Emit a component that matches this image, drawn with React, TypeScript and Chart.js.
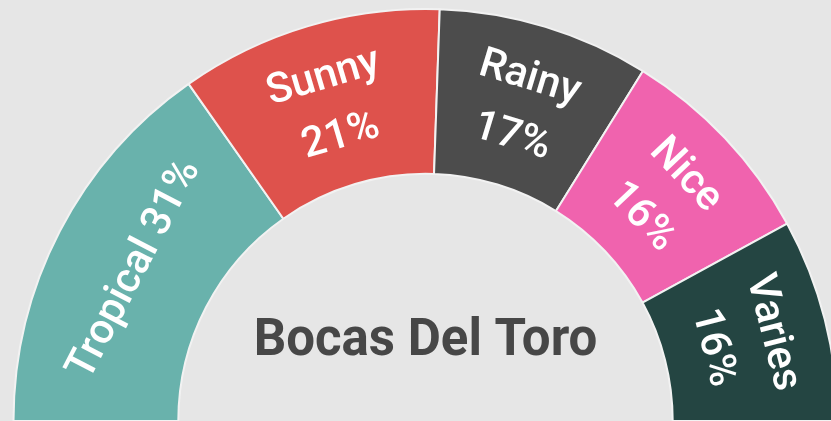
import { useEffect, useRef } from 'react';
import { Chart, registerables } from 'chart.js';

Chart.register(...registerables);

const categories = ['Tropical', 'Sunny', 'Rainy', 'Nice', 'Varies'];
const shares = [30.5, 20.6, 16.6, 16.4, 15.9];
const stackedLabel = [false, true, true, true, true];
const sliceColors = ['#69b2ac', '#de524c', '#4c4c4c', '#f063ae', '#244542'];
const centerTitle = 'Bocas Del Toro';

const arcLabelPlugin = {
  id: 'arcLabels',
  afterDatasetsDraw(chart: any) {
    const ctx = chart.ctx as CanvasRenderingContext2D;
    const meta = chart.getDatasetMeta(0);
    ctx.save();
    ctx.fillStyle = '#ffffff';
    ctx.font = '500 42px Roboto';
    ctx.textAlign = 'center';
    ctx.textBaseline = 'middle';
    meta.data.forEach((arc: any, i: number) => {
      const { x, y, startAngle, endAngle, innerRadius, outerRadius } = arc.getProps(
        ['x', 'y', 'startAngle', 'endAngle', 'innerRadius', 'outerRadius'],
        true
      );
      const mid = (startAngle + endAngle) / 2;
      const r = (innerRadius + outerRadius) / 2 - 2;
      const px = x + Math.cos(mid) * r;
      const py = y + Math.sin(mid) * r;
      const pct = Math.round(shares[i]) + '%';
      ctx.save();
      ctx.translate(px, py);
      ctx.rotate(mid + Math.PI / 2);
      if (stackedLabel[i]) {
        ctx.fillText(categories[i], 0, -30);
        ctx.fillText(pct, 0, 31);
      } else {
        ctx.fillText(categories[i] + ' ' + pct, 0, 0);
      }
      ctx.restore();
    });
    const first = meta.data[0];
    if (first) {
      ctx.fillStyle = '#474747';
      ctx.font = 'bold 51px Roboto';
      ctx.textBaseline = 'alphabetic';
      ctx.fillText(centerTitle, first.x, first.y - 66);
    }
    ctx.restore();
  },
};

export default function App() {
  const canvasRef = useRef<HTMLCanvasElement | null>(null);

  useEffect(() => {
    if (!canvasRef.current) return;
    const chart = new Chart(canvasRef.current, {
      type: 'doughnut',
      data: {
        labels: categories,
        datasets: [
          {
            data: shares,
            backgroundColor: sliceColors,
            borderColor: '#f2f2f2',
            borderWidth: 2,
            hoverOffset: 0,
            offset: 0,
            clip: false as any,
          },
        ],
      },
      options: {
        animation: false,
        responsive: true,
        maintainAspectRatio: false,
        rotation: -90,
        circumference: 180,
        cutout: '60%',
        radius: 412,
        layout: { padding: 0 },
        events: [],
        plugins: {
          legend: { display: false },
          tooltip: { enabled: false },
        },
      },
      plugins: [arcLabelPlugin],
    });
    return () => chart.destroy();
  }, []);

  return (
    <div
      style={{
        position: 'fixed',
        inset: 0,
        overflow: 'hidden',
        background: '#e6e6e6',
      }}
    >
      <div style={{ position: 'absolute', left: 8, top: 8, width: 835, height: 414 }}>
        <canvas ref={canvasRef} />
      </div>
    </div>
  );
}
